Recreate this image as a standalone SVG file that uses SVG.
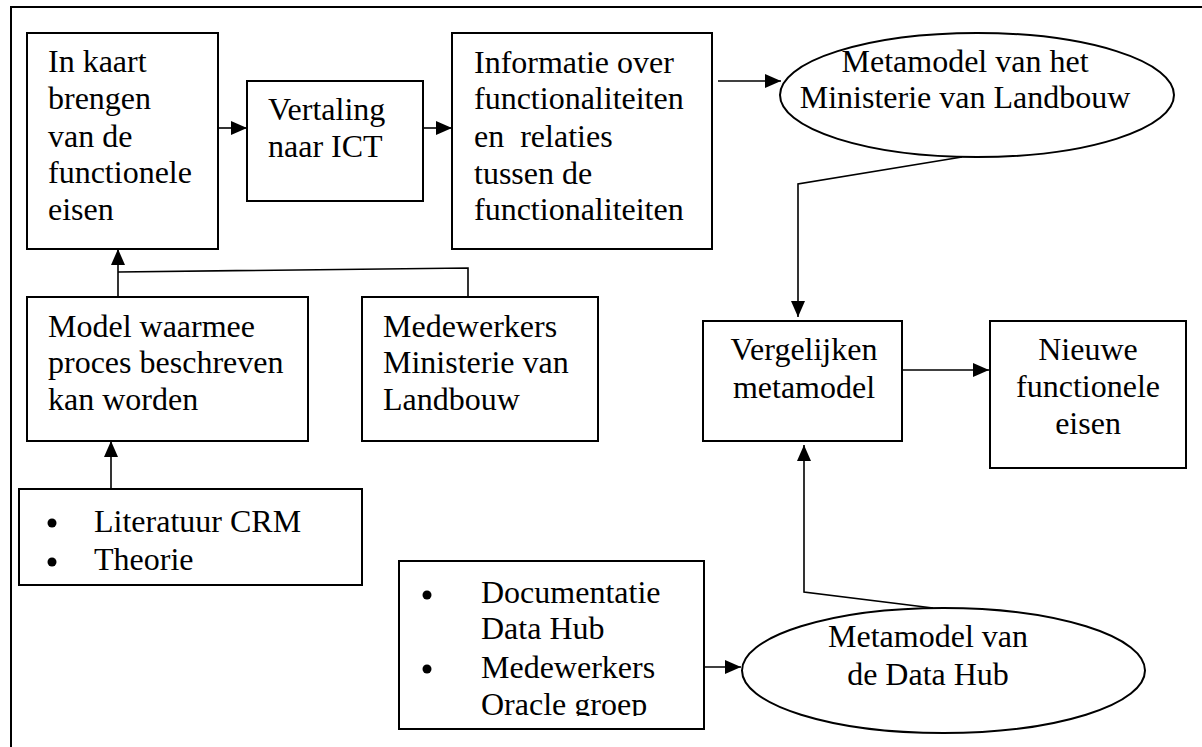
<svg xmlns="http://www.w3.org/2000/svg" width="1202" height="747" viewBox="0 0 1202 747">
  <style>
    .box { fill: #fff; stroke: #000; stroke-width: 2; }
    .oval { fill: #fff; stroke: #000; stroke-width: 2; }
    .lbl { font-family: "Liberation Serif", "Times New Roman", serif; font-size: 32px; fill: #000; white-space: pre; }
    .mid { text-anchor: middle; }
    .wire { fill: none; stroke: #000; stroke-width: 1.6; }
    .frame { fill: none; stroke: #000; stroke-width: 2; }
  </style>
  <defs>
    <marker id="head" markerUnits="userSpaceOnUse" markerWidth="17" markerHeight="14" refX="16" refY="7" orient="auto">
      <path d="M0,0 L16,7 L0,14 Z" fill="#000"/>
    </marker>
    <clipPath id="docClip">
      <rect x="400" y="562" width="304" height="154"/>
    </clipPath>
  </defs>

  <rect width="1202" height="747" fill="#fff"/>

  <!-- page frame -->
  <path class="frame" d="M11,747 L11,7 L1202,7"/>

  <!-- connectors -->
  <g id="connectors">
    <line class="wire" x1="218" y1="128" x2="247" y2="128" marker-end="url(#head)"/>
    <line class="wire" x1="423" y1="128" x2="452" y2="128" marker-end="url(#head)"/>
    <line class="wire" x1="718" y1="81" x2="781" y2="81" marker-end="url(#head)"/>
    <polyline class="wire" points="962,157 798,184 798,317" marker-end="url(#head)"/>
    <line class="wire" x1="118" y1="297" x2="118" y2="249" marker-end="url(#head)"/>
    <polyline class="wire" points="118,272 468,268 468,297"/>
    <line class="wire" x1="111" y1="489" x2="111" y2="441" marker-end="url(#head)"/>
    <line class="wire" x1="888" y1="370" x2="989" y2="370" marker-end="url(#head)"/>
    <polyline class="wire" points="933,608 804,592 804,445" marker-end="url(#head)"/>
    <line class="wire" x1="702" y1="667" x2="741" y2="667" marker-end="url(#head)"/>
  </g>

  <g id="node-inkaart">
    <rect class="box" x="27" y="33" width="191" height="216"/>
    <text class="lbl" x="48" y="72">In kaart</text>
    <text class="lbl" x="48" y="109">brengen</text>
    <text class="lbl" x="48" y="147">van de</text>
    <text class="lbl" x="48" y="183">functionele</text>
    <text class="lbl" x="48" y="220">eisen</text>
  </g>

  <g id="node-vertaling">
    <rect class="box" x="247" y="81" width="176" height="120"/>
    <text class="lbl" x="268" y="120">Vertaling</text>
    <text class="lbl" x="268" y="157">naar ICT</text>
  </g>

  <g id="node-informatie">
    <rect class="box" x="452" y="33" width="260" height="216"/>
    <text class="lbl" x="474" y="73">Informatie over</text>
    <text class="lbl" x="474" y="109">functionaliteiten</text>
    <text class="lbl" x="474" y="147">en  relaties</text>
    <text class="lbl" x="474" y="184">tussen de</text>
    <text class="lbl" x="474" y="220">functionaliteiten</text>
  </g>

  <g id="node-metamodel-ministerie">
    <ellipse class="oval" cx="977" cy="95" rx="197" ry="62"/>
    <text class="lbl mid" x="965" y="72">Metamodel van het</text>
    <text class="lbl mid" x="965" y="108">Ministerie van Landbouw</text>
  </g>

  <g id="node-model">
    <rect class="box" x="27" y="297" width="281" height="144"/>
    <text class="lbl" x="48" y="337">Model waarmee</text>
    <text class="lbl" x="48" y="373">proces beschreven</text>
    <text class="lbl" x="48" y="410">kan worden</text>
  </g>

  <g id="node-medewerkers">
    <rect class="box" x="362" y="297" width="236" height="144"/>
    <text class="lbl" x="383" y="337">Medewerkers</text>
    <text class="lbl" x="383" y="373">Ministerie van</text>
    <text class="lbl" x="383" y="410">Landbouw</text>
  </g>

  <g id="node-literatuur">
    <rect class="box" x="19" y="489" width="343" height="96"/>
    <circle cx="52" cy="523" r="4.5" fill="#000"/>
    <circle cx="52" cy="562" r="4.5" fill="#000"/>
    <text class="lbl" x="94" y="532">Literatuur CRM</text>
    <text class="lbl" x="94" y="570">Theorie</text>
  </g>

  <g id="node-vergelijken">
    <rect class="box" x="703" y="321" width="199" height="120"/>
    <text class="lbl mid" x="804" y="360">Vergelijken</text>
    <text class="lbl mid" x="804" y="398">metamodel</text>
  </g>

  <g id="node-nieuwe">
    <rect class="box" x="990" y="321" width="196" height="147"/>
    <text class="lbl mid" x="1088" y="360">Nieuwe</text>
    <text class="lbl mid" x="1088" y="397">functionele</text>
    <text class="lbl mid" x="1088" y="434">eisen</text>
  </g>

  <g id="node-documentatie">
    <rect class="box" x="399" y="561" width="305" height="168"/>
    <circle cx="427" cy="595" r="4.5" fill="#000"/>
    <circle cx="427" cy="669" r="4.5" fill="#000"/>
    <g clip-path="url(#docClip)">
      <text class="lbl" x="481" y="603">Documentatie</text>
      <text class="lbl" x="481" y="639">Data Hub</text>
      <text class="lbl" x="481" y="678">Medewerkers</text>
      <text class="lbl" x="481" y="715">Oracle groep</text>
    </g>
  </g>

  <g id="node-metamodel-datahub">
    <ellipse class="oval" cx="943.5" cy="670.5" rx="201.5" ry="62.5"/>
    <text class="lbl mid" x="928" y="647">Metamodel van</text>
    <text class="lbl mid" x="928" y="685">de Data Hub</text>
  </g>
</svg>
